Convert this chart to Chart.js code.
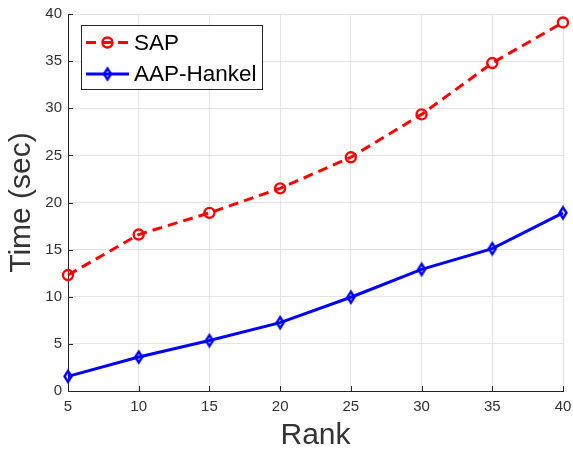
<!DOCTYPE html>
<html>
<head>
<meta charset="utf-8">
<script src="https://cdn.jsdelivr.net/npm/chart.js@4/dist/chart.umd.min.js"></script>
<style>
  html, body { margin: 0; padding: 0; background: #fff; }
  #wrap { width: 573px; height: 451px; position: relative; }
</style>
</head>
<body>
<div id="wrap"><canvas id="c" width="573" height="451"></canvas></div>
<script>
// Computation time versus rank for the two methods
const ranks = [5, 10, 15, 20, 25, 30, 35, 40];
const sapTime = [12.3, 16.6, 18.9, 21.5, 24.8, 29.35, 34.8, 39.1];
const hankelTime = [1.55, 3.6, 5.35, 7.25, 9.95, 12.9, 15.1, 18.9];
const seriesNames = ['SAP', 'AAP-Hankel'];
const xTitle = 'Rank';
const yTitle = 'Time (sec)';

const FONT = '"Liberation Sans", Arial, Helvetica, sans-serif';
const AXIS_COLOR = '#262626';
const GRID_COLOR = '#e3e3e3';
const TEXT_COLOR = '#333333';

// Hollow, taller-than-wide diamond marker
function diamondMarker(w, h, color, lw) {
  const c = document.createElement('canvas');
  c.width = Math.ceil(w + lw * 2);
  c.height = Math.ceil(h + lw * 2);
  const g = c.getContext('2d');
  const cx = c.width / 2, cy = c.height / 2;
  g.strokeStyle = color;
  g.lineWidth = lw;
  g.lineJoin = 'miter';
  g.beginPath();
  g.moveTo(cx, cy - h / 2);
  g.lineTo(cx + w / 2, cy);
  g.lineTo(cx, cy + h / 2);
  g.lineTo(cx - w / 2, cy);
  g.closePath();
  g.stroke();
  return c;
}
const diamond = diamondMarker(7, 11, '#0000ff', 2.4);

const toPoints = (xs, ys) => xs.map((x, i) => ({ x: x, y: ys[i] }));

// Boxed legend drawn inside the plot area, plus inward tick marks
const boxedLegend = {
  id: 'boxedLegend',
  afterDraw(chart) {
    const ctx = chart.ctx;
    const xs = chart.scales.x, ys = chart.scales.y;
    const area = chart.chartArea;

    // inward tick marks on the left and bottom axes
    ctx.save();
    ctx.strokeStyle = AXIS_COLOR;
    ctx.lineWidth = 1;
    ctx.beginPath();
    ys.ticks.forEach(t => {
      const y = Math.round(ys.getPixelForValue(t.value)) + 0.5;
      ctx.moveTo(area.left, y);
      ctx.lineTo(area.left + 5, y);
    });
    xs.ticks.forEach(t => {
      const x = Math.round(xs.getPixelForValue(t.value)) + 0.5;
      ctx.moveTo(x, area.bottom);
      ctx.lineTo(x, area.bottom - 5);
    });
    ctx.stroke();
    ctx.restore();

    // legend box
    const bx = 81.5, by = 25.5, bw = 181, bh = 64;
    ctx.save();
    ctx.fillStyle = '#ffffff';
    ctx.fillRect(bx, by, bw, bh);
    ctx.strokeStyle = AXIS_COLOR;
    ctx.lineWidth = 1;
    ctx.strokeRect(bx, by, bw, bh);

    const rows = [42.5, 74];
    const x0 = 86, x1 = 129, mx = 107.5;
    chart.data.datasets.forEach((ds, i) => {
      const y = rows[i];
      ctx.save();
      ctx.strokeStyle = ds.borderColor;
      ctx.lineWidth = ds.borderWidth;
      ctx.setLineDash(ds.borderDash || []);
      ctx.beginPath();
      ctx.moveTo(x0, y);
      ctx.lineTo(x1, y);
      ctx.stroke();
      ctx.restore();

      ctx.save();
      ctx.strokeStyle = ds.pointBorderColor;
      ctx.fillStyle = ds.pointBackgroundColor;
      ctx.lineWidth = ds.pointBorderWidth;
      ctx.setLineDash([]);
      Chart.helpers.drawPoint(ctx, {
        pointStyle: ds.pointStyle,
        radius: ds.pointRadius,
        borderWidth: ds.pointBorderWidth,
        rotation: 0
      }, mx, y);
      ctx.restore();

      ctx.fillStyle = '#000000';
      ctx.font = '22.5px ' + FONT;
      ctx.textBaseline = 'middle';
      ctx.textAlign = 'left';
      ctx.fillText(ds.label, 134, y + 1);
    });
    ctx.restore();
  }
};

new Chart(document.getElementById('c'), {
  type: 'line',
  data: {
    datasets: [
      {
        label: seriesNames[0],
        data: toPoints(ranks, sapTime),
        borderColor: '#ff0000',
        backgroundColor: 'rgba(0,0,0,0)',
        borderWidth: 3,
        borderDash: [10, 6],
        pointStyle: 'circle',
        pointRadius: 5,
        pointBorderWidth: 2.4,
        pointBorderColor: '#ff0000',
        pointBackgroundColor: 'rgba(0,0,0,0)',
        clip: false
      },
      {
        label: seriesNames[1],
        data: toPoints(ranks, hankelTime),
        borderColor: '#0000ff',
        backgroundColor: 'rgba(0,0,0,0)',
        borderWidth: 3,
        pointStyle: diamond,
        pointRadius: 6,
        pointBorderWidth: 2.4,
        pointBorderColor: '#0000ff',
        pointBackgroundColor: 'rgba(0,0,0,0)',
        clip: false
      }
    ]
  },
  options: {
    responsive: false,
    animation: false,
    devicePixelRatio: 1,
    layout: { padding: { left: 0, top: 14, right: 10, bottom: 0 } },
    plugins: {
      legend: { display: false },
      tooltip: { enabled: false }
    },
    elements: { line: { tension: 0 } },
    scales: {
      x: {
        type: 'linear',
        min: 5,
        max: 40,
        afterFit(s) {
          s.height = 60;
          s.paddingLeft = 0;
          s.paddingRight = 0;
        },
        ticks: {
          stepSize: 5,
          color: TEXT_COLOR,
          font: { family: FONT, size: 15 },
          padding: 7,
          maxRotation: 0
        },
        grid: { color: GRID_COLOR, lineWidth: 1, drawTicks: false },
        border: { color: AXIS_COLOR, width: 1 },
        title: {
          display: true,
          text: xTitle,
          color: TEXT_COLOR,
          font: { family: FONT, size: 30, lineHeight: 1 },
          padding: { top: 0, bottom: 0 }
        }
      },
      y: {
        min: 0,
        max: 40,
        afterFit(s) {
          s.width = 68;
          s.paddingTop = 0;
          s.paddingBottom = 0;
        },
        ticks: {
          stepSize: 5,
          color: TEXT_COLOR,
          font: { family: FONT, size: 15 },
          padding: 6
        },
        grid: { color: GRID_COLOR, lineWidth: 1, drawTicks: false },
        border: { color: AXIS_COLOR, width: 1 },
        title: {
          display: true,
          text: yTitle,
          color: TEXT_COLOR,
          font: { family: FONT, size: 30, lineHeight: 1 },
          padding: { top: 7, bottom: 0 }
        }
      }
    }
  },
  plugins: [boxedLegend]
});
</script>
</body>
</html>
